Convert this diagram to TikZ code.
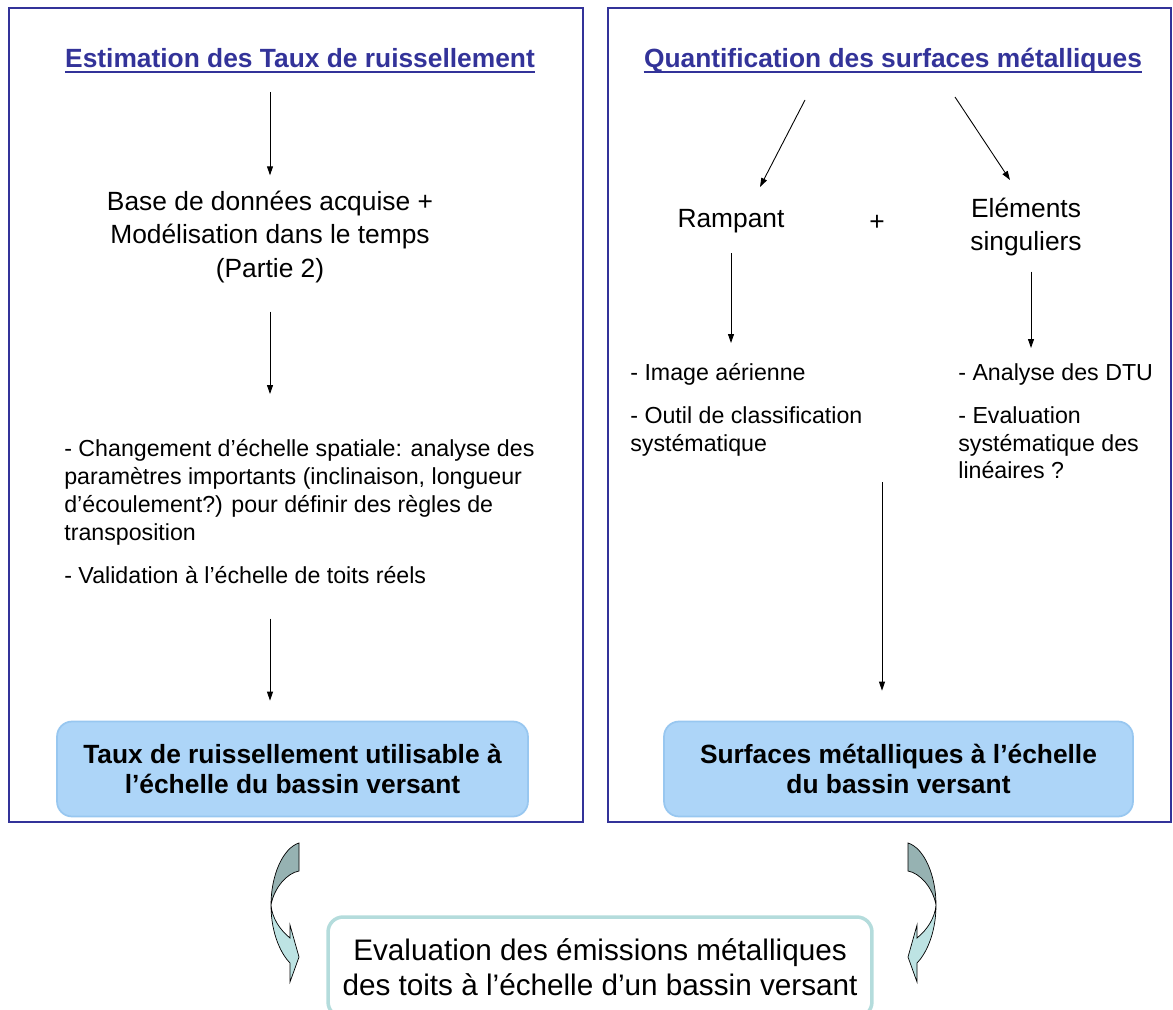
\documentclass[tikz,border=0pt]{standalone}
\usepackage{fontspec}
\setmainfont{Liberation Sans}
\usetikzlibrary{arrows.meta,positioning,calc}
\definecolor{framecol}{HTML}{333399}
\definecolor{boxfill}{HTML}{ADD5F8}
\definecolor{boxedge}{HTML}{98C7F0}
\definecolor{tealedge}{HTML}{B4DCDC}
\definecolor{curvetop}{HTML}{96B2B2}
\definecolor{curvebot}{HTML}{BDE3E3}
\tikzset{
  curvedarrow/.pic={
    % back of the band
    \filldraw[fill=curvetop, draw=black, line width=0.4pt]
      (0,0) .. controls (-16,5) and (-28,32) .. (-28,62)
      .. controls (-25,45) and (-12,30) .. (0,28) -- cycle;
    % front of the band with the head
    \filldraw[fill=curvebot, draw=black, line width=0.4pt]
      (-28,62) .. controls (-28,92) and (-17,112) .. (-9,120) -- (-9,139)
      -- (0,114) -- (-9,82) -- (-9,95)
      .. controls (-19,87) and (-27,75) .. (-28,62) -- cycle;
  }
}

\begin{document}
\begin{tikzpicture}[x=0.02cm, y=-0.02cm,
  frame/.style={draw=framecol, line width=1.6pt},
  title/.style={font=\fontsize{15}{18}\selectfont\bfseries, text=framecol,
                inner sep=0pt, text depth=0.22em},
  uline/.style={draw=framecol, line width=1.1pt},
  txt/.style={font=\fontsize{15}{19.3}\selectfont, align=center, inner sep=0pt},
  lst/.style={font=\fontsize{13.2}{15.9}\selectfont, align=left, inner sep=0pt, anchor=north west},
  res/.style={draw=boxedge, fill=boxfill, rounded corners=3mm, line width=1pt,
              minimum height=1.9cm, font=\fontsize{15}{17}\selectfont\bfseries, align=center},
  ar/.style={-{Triangle[length=1.8mm,width=1.2mm]}, line width=0.5pt}
]
  \useasboundingbox (0,0) rectangle (1173,1010);

  % the two frames
  \node[frame, minimum width=11.48cm, minimum height=16.28cm] (lframe) at (296,415) {};
  \node[frame, minimum width=11.26cm, minimum height=16.28cm] (rframe) at (889.5,415) {};

  % left column
  \node[title] (ltitle) at (300,60) {Estimation des Taux de ruissellement};
  \draw[uline] (ltitle.south west) -- (ltitle.south east);
  \node[txt] (base) at (270,237) {Base de données acquise +\\Modélisation dans le temps\\(Partie 2)};
  \node[lst] (chg) at (64,439) {- Changement d’échelle spatiale: analyse des\\paramètres importants (inclinaison, longueur\\d’écoulement?) pour définir des règles de\\transposition\\[0.3cm]- Validation à l’échelle de toits réels};
  \node[res, minimum width=9.42cm] (lres) at (292.5,769) {Taux de ruissellement utilisable à\\l’échelle du bassin versant};

  \draw[ar, shorten <=4mm, shorten >=3mm] (base.north |- ltitle.south) -- (base.north);
  \draw[ar, shorten <=5.6mm, shorten >=9mm] (base.south) -- (base.south |- chg.north);
  \draw[ar, shorten <=7mm, shorten >=4mm] (base.south |- chg.south) -- (base.south |- lres.north);

  % right column
  \node[title] (rtitle) at (893,60) {Quantification des surfaces métalliques};
  \draw[uline] (rtitle.south west) -- (rtitle.south east);
  \node[txt] (ramp) at (731,221) {Rampant};
  \node[txt] (plus) at (877,223) {+};
  \node[txt] (elem) at (1026,227) {Eléments\\singuliers};
  \node[lst] (img) at (630,363) {- Image aérienne\\[0.3cm]- Outil de classification\\systématique};
  \node[lst] (dtu) at (958,363) {- Analyse des DTU\\[0.3cm]- Evaluation\\systématique des\\linéaires ?};
  \node[res, minimum width=9.38cm] (rres) at (898.5,769) {Surfaces métalliques à l’échelle\\du bassin versant};

  \coordinate (splitl) at (805,100);
  \coordinate (splitr) at (955,97);
  \coordinate (rampin) at (760,187);
  \coordinate (elemin) at (1010,180);
  \coordinate (merge) at (882,482);
  \draw[ar] (splitl) -- (rampin);
  \draw[ar] (splitr) -- (elemin);
  \draw[ar, shorten <=4mm, shorten >=4mm] (ramp.south) -- (ramp.south |- img.north);
  \draw[ar, shorten <=3mm, shorten >=3mm] (elem.south -| 1031,0) -- (1031,0 |- dtu.north);
  \draw[ar, shorten >=6mm] (merge) -- (merge |- rres.north);

  % result
  \node[draw=tealedge, line width=2pt, rounded corners=3mm, fill=white,
        minimum width=10.88cm, minimum height=2cm, align=center,
        font=\fontsize{16.9}{19.9}\selectfont] (eval) at (600,967)
        {Evaluation des émissions métalliques\\des toits à l’échelle d’un bassin versant};
  \pic at (299,843) {curvedarrow};
  \pic[xscale=-1] at (908,843) {curvedarrow};
\end{tikzpicture}
\end{document}
